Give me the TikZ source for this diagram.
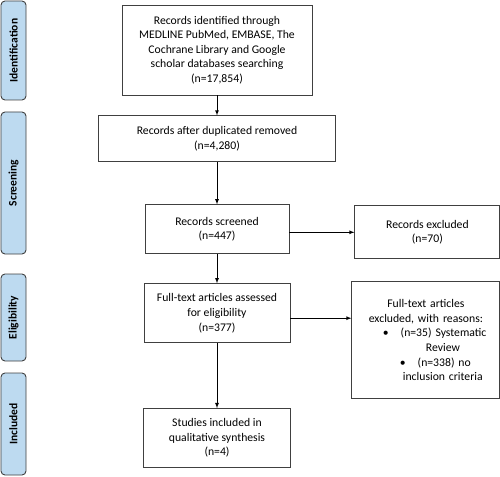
\documentclass[tikz,border=0pt]{standalone}
\usepackage{fontspec}
\setmainfont{Carlito}
\usepackage{xcolor}
\definecolor{phaseblue}{RGB}{189, 218, 240}
\definecolor{edgegray}{RGB}{64, 64, 64}
\usepackage{tikz}
\usetikzlibrary{arrows,positioning}

\newcommand{\reasonline}[2]{\makebox[144bp][l]{\hspace*{#1}#2}}

\begin{document}
\begin{tikzpicture}[x=1bp, y=-1bp, every node/.style={font=\fontsize{11.7bp}{14.6bp}\selectfont},
    box/.style={rectangle, draw=edgegray, line width=0.9bp, fill=white, align=center, inner sep=2bp},
    phase/.style={rectangle, rounded corners=4bp, draw=edgegray, line width=0.9bp, fill=phaseblue,
        minimum height=25bp, rotate=90, font=\fontsize{11.5bp}{13bp}\selectfont\bfseries},
    flow/.style={-latex, line width=0.8bp, color=black}]
    \useasboundingbox (0,0) rectangle (500,477);

    % Phase labels
    \node[phase, minimum width=99bp] (idbar) at (13.5,50.5) {Identification};
    \node[phase, minimum width=142bp] (scbar) at (13.5,183) {Screening};
    \node[phase, minimum width=87bp] (elbar) at (13.5,317.5) {Eligibility};
    \node[phase, minimum width=102bp] (inbar) at (13.5,424) {Included};

    % Main column
    \node[box, minimum width=190bp, minimum height=90bp] (ident) at (217,50)
        {Records identified through\\ MEDLINE PubMed, EMBASE, The\\ Cochrane Library and Google\\ scholar databases searching\\ (n=17,854)};
    \node[box, minimum width=237bp, minimum height=46bp, below=20bp of ident] (dup)
        {Records after duplicated removed\\ (n=4,280)};
    \node[box, minimum width=144bp, minimum height=49bp, below=42bp of dup] (screen)
        {Records screened\\ (n=447)};
    \node[box, minimum width=146bp, minimum height=59bp, below=29bp of screen] (fulltext)
        {Full-text articles assessed\\ for eligibility\\ (n=377)};
    \node[box, minimum width=147bp, minimum height=59bp, below=65bp of fulltext] (studies)
        {Studies included in\\ qualitative synthesis\\ (n=4)};

    % Exclusions
    \node[box, minimum width=145bp, minimum height=53bp, right=65bp of screen, yshift=-3bp] (excl)
        {Records excluded\\ (n=70)};
    \node[box, text width=144bp, minimum height=117bp, right=61bp of fulltext.north east, anchor=north west, yshift=2bp] (reasons)
        {Full-text articles\\ excluded, with reasons:\\
         \reasonline{29bp}{\textbullet\hspace{12bp}(n=35) Systematic}\\
         \reasonline{72bp}{Review}\\
         \reasonline{46bp}{\textbullet\hspace{12bp}(n=338) no}\\
         \reasonline{49bp}{inclusion criteria}};

    % Flow
    \draw[flow] (ident) -- (dup);
    \draw[flow] (dup) -- (screen);
    \draw[flow] (screen) -- (fulltext);
    \draw[flow] (fulltext) -- (studies);
    \draw[flow] (screen.east |- excl) -- (excl.west);
    \draw[flow] ([yshift=-5bp]fulltext.east) -- ([yshift=-5bp]fulltext.east -| reasons.west);
\end{tikzpicture}
\end{document}
